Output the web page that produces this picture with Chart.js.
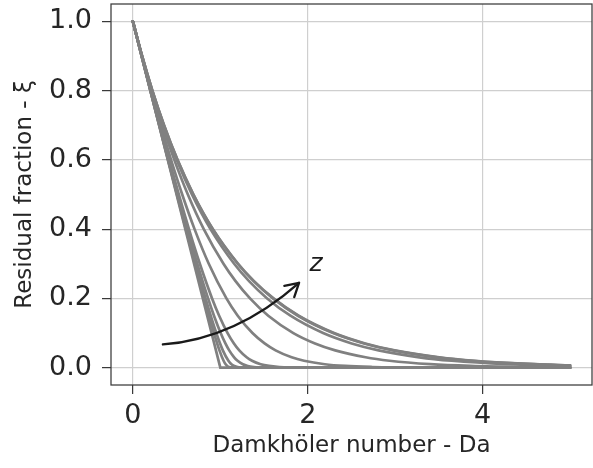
<!DOCTYPE html>
<html><head><meta charset="utf-8">
<script src="https://cdn.jsdelivr.net/npm/chart.js@4.4.1/dist/chart.umd.min.js"></script>
<style>html,body{margin:0;padding:0;background:#fff;} canvas{display:block;}</style>
</head><body>
<canvas id="c" width="593" height="468"></canvas>
<script>
// ---- tick labels ----
const xTickValues = [0, 2, 4];
const yTickValues = [0, 0.2, 0.4, 0.6, 0.8, 1.0];

// ---- curves (Damköhler number, residual fraction) ----
const daZ0 = [0, 1, 5];
const xiZ0 = [1, 0, 0];

const daZ1 = [0, 0.1001, 0.2004, 0.4022, 0.6062, 0.8159, 0.9275, 0.9901, 1.0375, 1.0609, 1.0794, 1.1003, 1.1149, 5];
const xiZ1 = [1, 0.9, 0.8, 0.6, 0.4, 0.2, 0.1, 0.05, 0.02, 0.01, 0.005, 0.002, 0.001, 0];

const daZ2 = [0, 0.1002, 0.2009, 0.4043, 0.6122, 0.8311, 0.9539, 1.0287, 1.0928, 1.1271, 1.1605, 1.1986, 1.2263, 5];
const xiZ2 = [1, 0.9, 0.8, 0.6, 0.4, 0.2, 0.1, 0.05, 0.02, 0.01, 0.005, 0.002, 0.001, 0];

const daZ3 = [0, 0.1004, 0.2017, 0.4082, 0.6234, 0.7373, 0.8600, 0.9276, 1.0039, 1.0581, 1.1015, 1.1579, 1.1972, 1.2578, 1.3138, 1.3844, 1.4367, 5];
const xiZ3 = [1, 0.9, 0.8, 0.6, 0.4, 0.3, 0.2, 0.15, 0.1, 0.07, 0.05, 0.03, 0.02, 0.01, 0.005, 0.002, 0.001, 0];

const daZ4 = [0, 0.1007, 0.2030, 0.4145, 0.6413, 0.7657, 0.9056, 0.9866, 1.0830, 1.1556, 1.2168, 1.3008, 1.3624, 1.4616, 1.5563, 1.6784, 1.7697, 5];
const xiZ4 = [1, 0.9, 0.8, 0.6, 0.4, 0.3, 0.2, 0.15, 0.1, 0.07, 0.05, 0.03, 0.02, 0.01, 0.005, 0.002, 0.001, 0];

const daZ5 = [0, 0.1018, 0.2077, 0.3189, 0.4369, 0.5644, 0.7054, 0.8680, 1.0698, 1.1990, 1.3675, 1.5064, 1.6319, 1.8155, 1.9573, 2.1951, 2.4294, 2.7369, 2.9686, 5];
const xiZ5 = [1, 0.9, 0.8, 0.7, 0.6, 0.5, 0.4, 0.3, 0.2, 0.15, 0.1, 0.07, 0.05, 0.03, 0.02, 0.01, 0.005, 0.002, 0.001, 0];

const daZ6 = [0, 0.1036, 0.2154, 0.3378, 0.4739, 0.6288, 0.8109, 1.0360, 1.1742, 1.3396, 1.5481, 1.8351, 2.0828, 2.3138, 2.6610, 2.9347, 3.4001, 3.8639, 4.4757, 4.9382, 5];
const xiZ6 = [1, 0.9, 0.8, 0.7, 0.6, 0.5, 0.4, 0.3, 0.25, 0.2, 0.15, 0.1, 0.07, 0.05, 0.03, 0.02, 0.01, 0.005, 0.002, 0.001, 0.0009];

const daZ7 = [0, 0.1049, 0.2210, 0.3515, 0.5008, 0.6756, 0.8875, 1.1582, 1.3285, 1.5359, 1.8019, 2.1751, 2.5021, 2.8098, 3.2760, 3.6455, 4.2765, 4.9071, 5];
const xiZ7 = [1, 0.9, 0.8, 0.7, 0.6, 0.5, 0.4, 0.3, 0.25, 0.2, 0.15, 0.1, 0.07, 0.05, 0.03, 0.02, 0.01, 0.005, 0.0045];

const daZ8 = [0, 0.1053, 0.2229, 0.3561, 0.5097, 0.6912, 0.9132, 1.1990, 1.3800, 1.6014, 1.8868, 2.2887, 2.6421, 2.9755, 3.4814, 3.8830, 4.5694, 5];
const xiZ8 = [1, 0.9, 0.8, 0.7, 0.6, 0.5, 0.4, 0.3, 0.25, 0.2, 0.15, 0.1, 0.07, 0.05, 0.03, 0.02, 0.01, 0.0065];

const daZ9 = [0, 0.1054, 0.2231, 0.3566, 0.5107, 0.6930, 0.9160, 1.2035, 1.3857, 1.6086, 1.8961, 2.3012, 2.6575, 2.9937, 3.5040, 3.9091, 4.6016, 5];
const xiZ9 = [1, 0.9, 0.8, 0.7, 0.6, 0.5, 0.4, 0.3, 0.25, 0.2, 0.15, 0.1, 0.07, 0.05, 0.03, 0.02, 0.01, 0.0067];

// ---- annotation (data coordinates) ----
const arrowStart = [0.343, 0.067];
const arrowCtrl = [1.173, 0.083];
const arrowEnd = [1.900, 0.245];
const zLabelPos = [2.02, 0.279];
const zLabelText = 'z';

const curves = [
  [daZ0, xiZ0], [daZ1, xiZ1], [daZ2, xiZ2], [daZ3, xiZ3], [daZ4, xiZ4],
  [daZ5, xiZ5], [daZ6, xiZ6], [daZ7, xiZ7], [daZ8, xiZ8], [daZ9, xiZ9]
];

const FONT = "'DejaVu Sans', sans-serif";
const lineColor = '#808080';
const gridColor = '#cfcfcf';
const spineColor = '#3a3a3a';
const textColor = '#262626';

const datasets = curves.map(([da, xi], k) => ({
  data: da.map((x, i) => ({x: x, y: xi[i]})),
  borderColor: lineColor,
  borderWidth: 2.7,
  pointRadius: 0,
  fill: false,
  tension: 0,
  cubicInterpolationMode: k === 0 ? 'default' : 'monotone',
  borderCapStyle: 'round'
}));

const decor = {
  id: 'decor',
  afterDatasetsDraw(chart) {
    const {ctx, chartArea: a, scales: {x, y}} = chart;
    ctx.save();
    // frame
    ctx.strokeStyle = spineColor;
    ctx.lineWidth = 1.25;
    ctx.strokeRect(a.left, a.top, a.right - a.left, a.bottom - a.top);
    // curved arrow
    const p0 = [x.getPixelForValue(arrowStart[0]), y.getPixelForValue(arrowStart[1])];
    const p1 = [x.getPixelForValue(arrowCtrl[0]), y.getPixelForValue(arrowCtrl[1])];
    const p2 = [x.getPixelForValue(arrowEnd[0]), y.getPixelForValue(arrowEnd[1])];
    ctx.strokeStyle = '#1a1a1a';
    ctx.lineWidth = 2.3;
    ctx.lineCap = 'round';
    ctx.lineJoin = 'round';
    ctx.beginPath();
    ctx.moveTo(p0[0], p0[1]);
    ctx.quadraticCurveTo(p1[0], p1[1], p2[0], p2[1]);
    ctx.stroke();
    const ang = Math.atan2(p2[1] - p1[1], p2[0] - p1[0]);
    const L = 15, h = Math.PI / 6;
    ctx.beginPath();
    ctx.moveTo(p2[0] - L * Math.cos(ang - h), p2[1] - L * Math.sin(ang - h));
    ctx.lineTo(p2[0], p2[1]);
    ctx.lineTo(p2[0] - L * Math.cos(ang + h), p2[1] - L * Math.sin(ang + h));
    ctx.stroke();
    // z label
    ctx.fillStyle = '#1a1a1a';
    ctx.font = "italic 25px " + FONT;
    ctx.textAlign = 'left';
    ctx.textBaseline = 'alphabetic';
    ctx.fillText(zLabelText, x.getPixelForValue(zLabelPos[0]), y.getPixelForValue(zLabelPos[1]));
    ctx.restore();
  }
};

new Chart(document.getElementById('c'), {
  type: 'line',
  data: {datasets},
  plugins: [decor],
  options: {
    responsive: false,
    animation: false,
    devicePixelRatio: 1,
    layout: {padding: {left: 0, right: 1, top: 4, bottom: 0}},
    plugins: {legend: {display: false}, tooltip: {enabled: false}},
    scales: {
      x: {
        type: 'linear', min: -0.25, max: 5.25,
        afterBuildTicks: s => { s.ticks = xTickValues.map(v => ({value: v})); },
        afterFit: s => { s.height = 83; s.paddingLeft = 0; s.paddingRight = 0; },
        grid: {color: gridColor, lineWidth: 1.2, tickColor: spineColor, tickLength: 9, tickWidth: 1.25},
        border: {display: false},
        ticks: {font: {family: FONT, size: 27}, color: textColor, padding: 6, maxRotation: 0,
                callback: v => String(v)},
        title: {display: true, text: 'Damkhöler number - Da', font: {family: FONT, size: 23},
                color: textColor, padding: {top: 0, bottom: 8}}
      },
      y: {
        type: 'linear', min: -0.05, max: 1.05,
        afterBuildTicks: s => { s.ticks = yTickValues.map(v => ({value: v})); },
        afterFit: s => { s.width = 111; s.paddingTop = 0; s.paddingBottom = 0; },
        grid: {color: gridColor, lineWidth: 1.2, tickColor: spineColor, tickLength: 9, tickWidth: 1.25},
        border: {display: false},
        ticks: {font: {family: FONT, size: 27}, color: textColor, padding: 10,
                callback: v => Number(v).toFixed(1)},
        title: {display: true, text: 'Residual fraction - ξ', font: {family: FONT, size: 23},
                color: textColor, padding: {top: 11, bottom: 0}}
      }
    }
  }
});
</script>
</body></html>
